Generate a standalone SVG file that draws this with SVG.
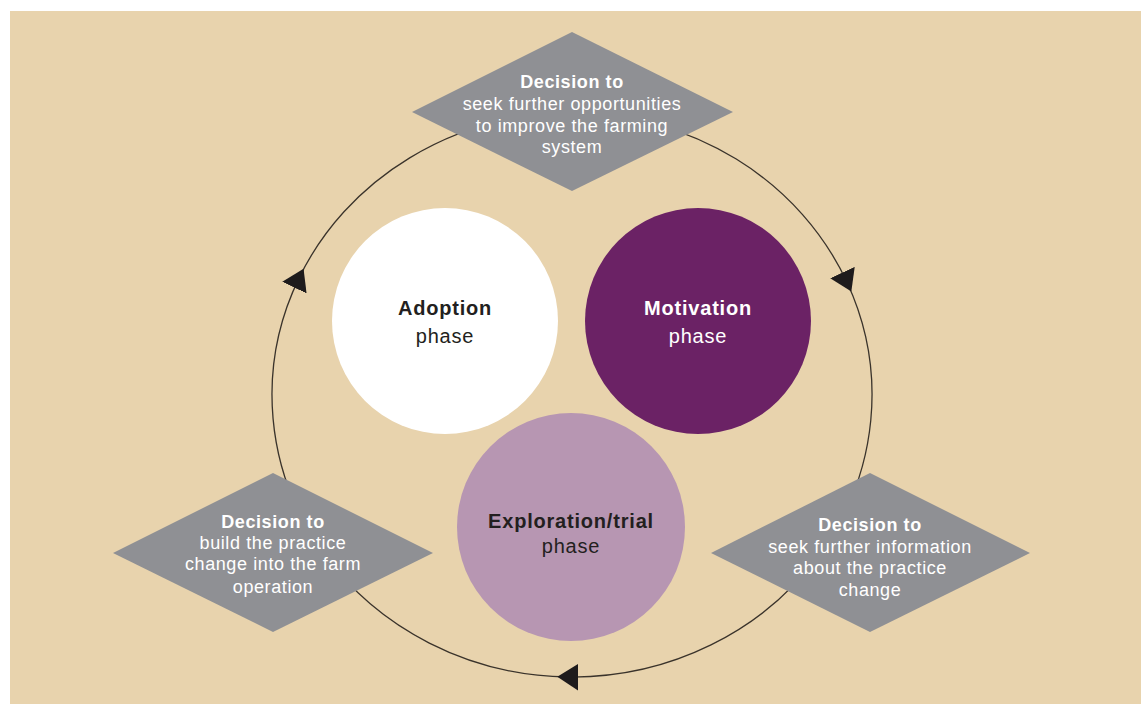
<svg xmlns="http://www.w3.org/2000/svg" width="1141" height="704" viewBox="0 0 1141 704">
<style>
.bg{fill:#e8d3ad}
.dia{fill:#8f9094}
.dt{font-family:"Liberation Sans",Arial,sans-serif;font-size:18px;fill:#ffffff;text-anchor:middle;letter-spacing:0.6px}
.b{font-weight:bold}
.ct{font-family:"Liberation Sans",Arial,sans-serif;font-size:20px;text-anchor:middle;letter-spacing:0.8px}
.conn{fill:none;stroke:#3a332b;stroke-width:1.3;marker-mid:url(#ah)}
</style>
<defs>
<marker id="ah" markerUnits="userSpaceOnUse" viewBox="0 0 21 27" markerWidth="21" markerHeight="27" refX="10.5" refY="13.5" orient="auto">
<path d="M0,0 L21,13.5 L0,27 Z" fill="#1e1b1c"/>
</marker>
</defs>
<rect x="0" y="0" width="1141" height="704" fill="#ffffff"/>
<rect class="bg" x="10" y="11" width="1131" height="693"/>
<g id="connectors">
<path class="conn" d="M572,113 A300 282 0 0 1 846.9,282.1 A300 282 0 0 1 820.7,552.7"/>
<path class="conn" d="M820.7,552.7 A300 282 0 0 1 567.8,677 A300 282 0 0 1 323.3,552.7"/>
<path class="conn" d="M323.3,552.7 A300 282 0 0 1 299,278.1 A300 282 0 0 1 572,113"/>
</g>
<g id="adoption">
<circle cx="445" cy="321" r="113" fill="#ffffff"/>
<text class="ct b" x="445" y="315" fill="#231f20">Adoption</text>
<text class="ct" x="445" y="343" fill="#231f20">phase</text>
</g>
<g id="motivation">
<circle cx="698" cy="321" r="113" fill="#6b2265"/>
<text class="ct b" x="698" y="315" fill="#ffffff">Motivation</text>
<text class="ct" x="698" y="343" fill="#ffffff">phase</text>
</g>
<g id="exploration">
<circle cx="571" cy="527" r="114" fill="#b796b2"/>
<text class="ct b" x="571" y="528" fill="#231f20">Exploration/trial</text>
<text class="ct" x="571" y="553" fill="#231f20">phase</text>
</g>
<g id="decision-top">
<polygon class="dia" points="572,32 733,112 572,191 412,112"/>
<text class="dt b" x="572" y="88">Decision to</text>
<text class="dt" x="572" y="110">seek further opportunities</text>
<text class="dt" x="572" y="132">to improve the farming</text>
<text class="dt" x="572" y="153">system</text>
</g>
<g id="decision-right">
<polygon class="dia" points="870,473 1030,553 870,632 711,553"/>
<text class="dt b" x="870" y="531">Decision to</text>
<text class="dt" x="870" y="553">seek further information</text>
<text class="dt" x="870" y="574">about the practice</text>
<text class="dt" x="870" y="596">change</text>
</g>
<g id="decision-left">
<polygon class="dia" points="273,473 433,553 273,632 113,553"/>
<text class="dt b" x="273" y="528">Decision to</text>
<text class="dt" x="273" y="549">build the practice</text>
<text class="dt" x="273" y="570">change into the farm</text>
<text class="dt" x="273" y="593">operation</text>
</g>
</svg>
